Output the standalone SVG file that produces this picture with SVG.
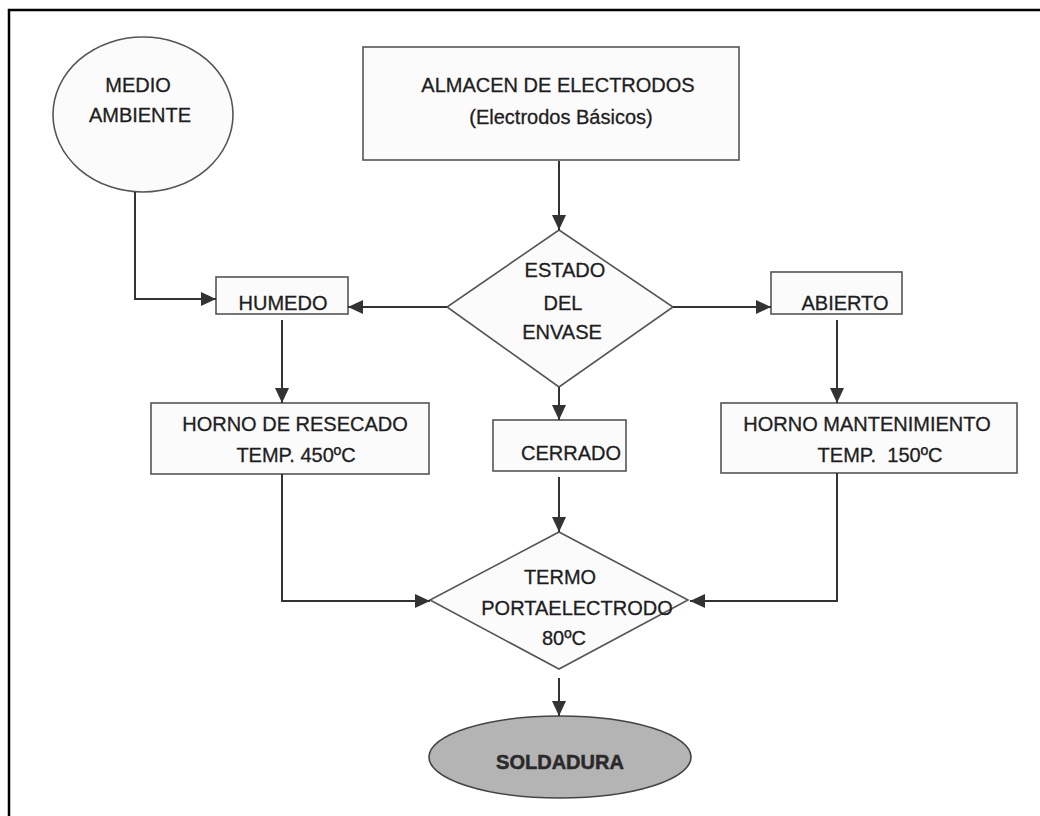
<svg xmlns="http://www.w3.org/2000/svg" width="1040" height="816" viewBox="0 0 1040 816">
<style>
.box{fill:#fbfbfb;stroke:#555;stroke-width:1.6}
.t{font-family:"Liberation Sans",Arial,sans-serif;font-size:20px;fill:#1e1e1e;stroke:#1e1e1e;stroke-width:0.3;text-anchor:middle}
.c{fill:none;stroke:#333;stroke-width:2}
</style>
<defs>
<marker id="ah" markerUnits="userSpaceOnUse" markerWidth="16" markerHeight="16" viewBox="0 0 16 16" refX="15" refY="8" orient="auto">
<path d="M0,1 L15,8 L0,15 Z" fill="#333"/>
</marker>
</defs>
<rect width="1040" height="816" fill="#fff"/>
<path d="M9,816 V10 H1040" fill="none" stroke="#000" stroke-width="2.5"/>

<g id="medio-ambiente">
<ellipse cx="143" cy="114.5" rx="90" ry="77.5" class="box"/>
<text class="t" x="138" y="92">MEDIO</text>
<text class="t" x="140" y="122">AMBIENTE</text>
</g>

<g id="almacen">
<rect x="363" y="47" width="376" height="113" class="box"/>
<text class="t" x="558" y="92">ALMACEN DE ELECTRODOS</text>
<text class="t" x="561" y="124">(Electrodos Básicos)</text>
</g>

<g id="estado">
<polygon points="559,230 673,307 559,387 447,307" class="box"/>
<text class="t" x="565" y="277">ESTADO</text>
<text class="t" x="563" y="310">DEL</text>
<text class="t" x="562" y="339">ENVASE</text>
</g>

<g id="humedo">
<rect x="216" y="277" width="132" height="37" class="box"/>
<text class="t" x="283" y="310">HUMEDO</text>
</g>

<g id="abierto">
<rect x="771" y="272" width="131" height="42" class="box"/>
<text class="t" x="845" y="310">ABIERTO</text>
</g>

<g id="horno-resecado">
<rect x="151" y="403" width="278" height="71" class="box"/>
<text class="t" x="295" y="431">HORNO DE RESECADO</text>
<text class="t" x="296" y="462">TEMP. 450ºC</text>
</g>

<g id="cerrado">
<rect x="493" y="420" width="133" height="51" class="box"/>
<text class="t" x="571" y="460">CERRADO</text>
</g>

<g id="horno-mantenimiento">
<rect x="721" y="403" width="296" height="70" class="box"/>
<text class="t" x="867" y="431">HORNO MANTENIMIENTO</text>
<text class="t" x="880" y="462" xml:space="preserve">TEMP.  150ºC</text>
</g>

<g id="termo">
<polygon points="559,532 688,600 559,669 430,600" class="box"/>
<text class="t" x="560" y="584">TERMO</text>
<text class="t" x="577" y="615">PORTAELECTRODO</text>
<text class="t" x="564" y="645">80ºC</text>
</g>

<g id="soldadura">
<ellipse cx="560" cy="757" rx="131" ry="41" fill="#b4b4b4" stroke="#444" stroke-width="1.6"/>
<text class="t" x="560" y="769" style="font-weight:bold;font-size:20px;fill:#2a2a2a;stroke:#2a2a2a;stroke-width:0.5">SOLDADURA</text>
</g>

<g id="connectors">
<path class="c" d="M559,161 V230" marker-end="url(#ah)"/>
<path class="c" d="M135,192 V299 H216" marker-end="url(#ah)"/>
<path class="c" d="M447,307 H348" marker-end="url(#ah)"/>
<path class="c" d="M673,307 H771" marker-end="url(#ah)"/>
<path class="c" d="M282,320 V403" marker-end="url(#ah)"/>
<path class="c" d="M837,320 V403" marker-end="url(#ah)"/>
<path class="c" d="M559,387 V420" marker-end="url(#ah)"/>
<path class="c" d="M559,477 V532" marker-end="url(#ah)"/>
<path class="c" d="M282,474 V601 H430" marker-end="url(#ah)"/>
<path class="c" d="M837,473 V601 H690" marker-end="url(#ah)"/>
<path class="c" d="M559,678 V716" marker-end="url(#ah)"/>
</g>
</svg>
